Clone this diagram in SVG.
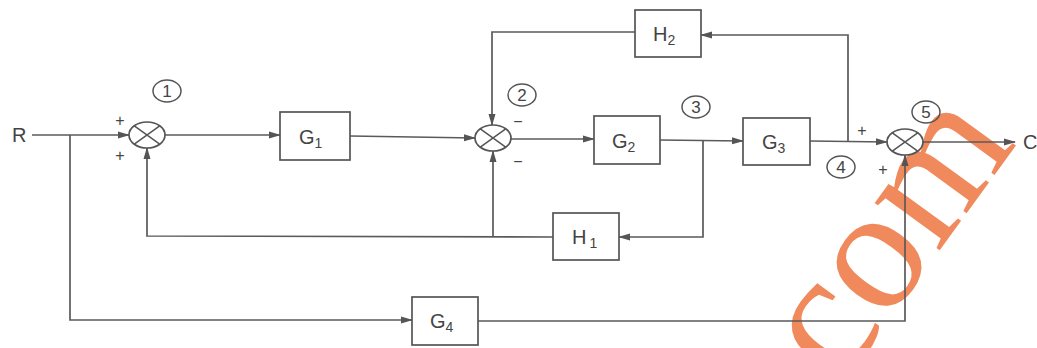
<svg xmlns="http://www.w3.org/2000/svg" width="1037" height="348" viewBox="0 0 1037 348">
<defs>
<marker id="arr" markerWidth="12" markerHeight="8" refX="11" refY="4" orient="auto" markerUnits="userSpaceOnUse">
<path d="M0,0.5 L12,4 L0,7.5 z" fill="#555"/>
</marker>
<style>
.box{fill:#fff;stroke:#555;stroke-width:1.7}
.sum{fill:#fff;stroke:#555;stroke-width:1.7}
.x{stroke:#555;stroke-width:1.5}
.ln{fill:none;stroke:#5a5a5a;stroke-width:1.7}
.t{font-family:"Liberation Sans",Arial,sans-serif;fill:#444;font-size:20px}
.sub{font-size:14px}
.sg{font-family:"Liberation Sans",Arial,sans-serif;fill:#444;font-size:16px;text-anchor:middle}
.num{fill:none;stroke:#555;stroke-width:1.5}
.nt{font-family:"Liberation Sans",Arial,sans-serif;fill:#444;font-size:17px;text-anchor:middle}
.wm{font-family:"Liberation Serif","Times New Roman",serif;fill:#f0895c;font-size:175px}
</style>
</defs>
<rect width="1037" height="348" fill="#fff"/>
<text class="wm" x="929" y="265" text-anchor="middle" transform="rotate(-54 929 265)">com</text>
<g id="connectors">
<path class="ln" d="M32,135 L129,135" marker-end="url(#arr)"/>
<path class="ln" d="M70,135 L70,320 L412,320" marker-end="url(#arr)"/>
<path class="ln" d="M165,135 L280,135" marker-end="url(#arr)"/>
<path class="ln" d="M350,136 L475,138" marker-end="url(#arr)"/>
<path class="ln" d="M511,139 L594,139" marker-end="url(#arr)"/>
<path class="ln" d="M660,140 L743,141" marker-end="url(#arr)"/>
<path class="ln" d="M703,140 L703,237 L619,237" marker-end="url(#arr)"/>
<path class="ln" d="M553,237 L147,236 L147,148" marker-end="url(#arr)"/>
<path class="ln" d="M493,237 L493,151" marker-end="url(#arr)"/>
<path class="ln" d="M810,141 L887,142" marker-end="url(#arr)"/>
<path class="ln" d="M848,141 L848,35 L701,35" marker-end="url(#arr)"/>
<path class="ln" d="M635,32 L492,32 L492,125" marker-end="url(#arr)"/>
<path class="ln" d="M922,142 L1015,142" marker-end="url(#arr)"/>
<path class="ln" d="M478,321 L905,321 L905,155" marker-end="url(#arr)"/>
</g>
<g id="R"><text class="t" x="12" y="142">R</text></g>
<g id="C"><text class="t" x="1023" y="149">C</text></g>
<g id="sum1">
<ellipse class="sum" cx="147" cy="135" rx="18" ry="13"/>
<path class="x" d="M134.3,125.8 L159.7,144.2 M134.3,144.2 L159.7,125.8"/>
<text class="sg" x="120" y="126">+</text>
<text class="sg" x="120" y="161">+</text>
</g>
<g id="sum2">
<ellipse class="sum" cx="493" cy="138" rx="18" ry="13"/>
<path class="x" d="M480.3,128.8 L505.7,147.2 M480.3,147.2 L505.7,128.8"/>
<text class="sg" x="518" y="127">−</text>
<text class="sg" x="518" y="167">−</text>
</g>
<g id="sum3">
<ellipse class="sum" cx="905" cy="142" rx="18" ry="13"/>
<path class="x" d="M892.3,132.8 L917.7,151.2 M892.3,151.2 L917.7,132.8"/>
<text class="sg" x="862" y="136">+</text>
<text class="sg" x="883" y="175">+</text>
</g>
<g id="G1"><rect class="box" x="280" y="112" width="70" height="48"/><text class="t" x="299" y="144">G<tspan class="sub" dy="4">1</tspan></text></g>
<g id="G2"><rect class="box" x="594" y="116" width="66" height="48"/><text class="t" x="612" y="148">G<tspan class="sub" dy="4">2</tspan></text></g>
<g id="G3"><rect class="box" x="743" y="118" width="67" height="47"/><text class="t" x="762" y="149">G<tspan class="sub" dy="4">3</tspan></text></g>
<g id="G4"><rect class="box" x="412" y="297" width="66" height="48"/><text class="t" x="430" y="328">G<tspan class="sub" dy="4">4</tspan></text></g>
<g id="H1"><rect class="box" x="553" y="213" width="66" height="47"/><text class="t" x="572" y="244">H<tspan class="sub" dx="3" dy="4">1</tspan></text></g>
<g id="H2"><rect class="box" x="635" y="10" width="66" height="47"/><text class="t" x="653" y="41">H<tspan class="sub" dy="4">2</tspan></text></g>
<g id="n1"><ellipse class="num" cx="167" cy="91" rx="14" ry="11"/><text class="nt" x="167" y="97">1</text></g>
<g id="n2"><ellipse class="num" cx="522" cy="95" rx="14" ry="11"/><text class="nt" x="522" y="101">2</text></g>
<g id="n3"><ellipse class="num" cx="696" cy="107" rx="14" ry="11"/><text class="nt" x="696" y="113">3</text></g>
<g id="n4"><ellipse class="num" cx="841" cy="167" rx="14" ry="11"/><text class="nt" x="841" y="173">4</text></g>
<g id="n5"><ellipse class="num" cx="926" cy="112" rx="14" ry="11"/><text class="nt" x="926" y="118">5</text></g>
</svg>
